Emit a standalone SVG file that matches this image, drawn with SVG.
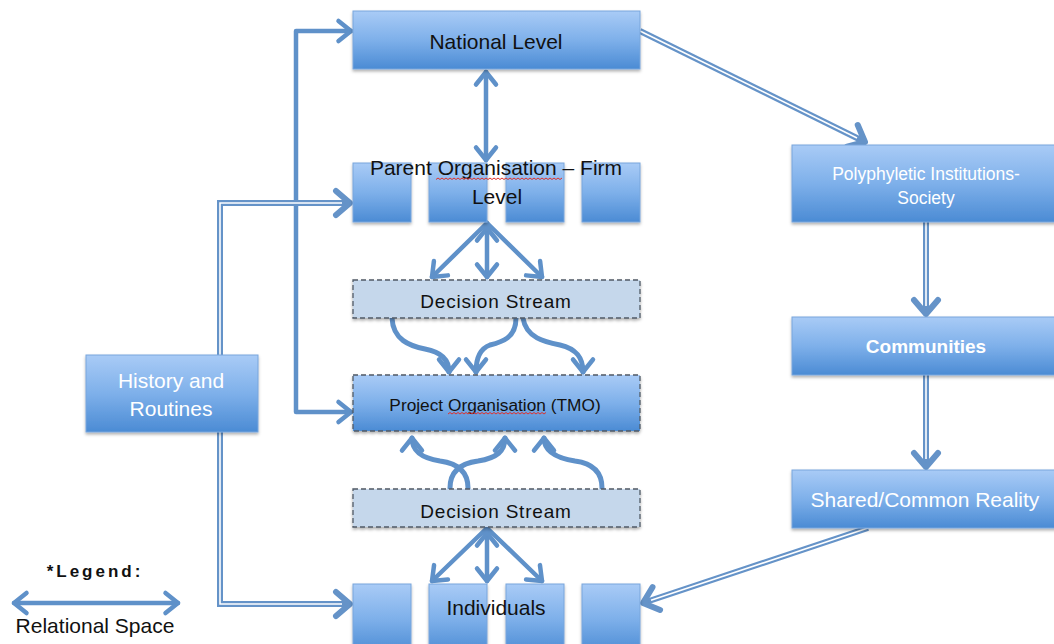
<svg xmlns="http://www.w3.org/2000/svg" width="1054" height="644" viewBox="0 0 1054 644">
  <defs>
    <linearGradient id="blueFill" x1="0" y1="0" x2="0" y2="1">
      <stop offset="0" stop-color="#a9cbf6"/>
      <stop offset="0.5" stop-color="#7eb0ea"/>
      <stop offset="1" stop-color="#4b8bd4"/>
    </linearGradient>
    <filter id="shadow" x="-10%" y="-10%" width="120%" height="130%">
      <feDropShadow dx="0" dy="2" stdDeviation="1.5" flood-color="#000" flood-opacity="0.3"/>
    </filter>
    <!-- open chevron for single connectors -->
    <marker id="head" markerUnits="userSpaceOnUse" markerWidth="32" markerHeight="32" viewBox="-16 -16 32 32" refX="0" refY="0" orient="auto-start-reverse">
      <path d="M-12.5,-10 L0,0 L-12.5,10" fill="none" stroke="#5f91c9" stroke-width="4.5" stroke-linecap="round" stroke-linejoin="round"/>
    </marker>
    <!-- heavier chevron for double connectors -->
    <marker id="bighead" markerUnits="userSpaceOnUse" markerWidth="36" markerHeight="36" viewBox="-18 -18 36 36" refX="0" refY="0" orient="auto">
      <path d="M-14,-12 L0,0 L-14,12" fill="none" stroke="#6593c8" stroke-width="6" stroke-linecap="round" stroke-linejoin="round"/>
    </marker>
    <style>
      .box { fill: url(#blueFill); stroke: #79a6dc; stroke-width: 1; filter: url(#shadow); }
      .dash { fill: url(#blueFill); stroke: #505a66; stroke-width: 1.3; stroke-dasharray: 5 3; filter: url(#shadow); }
      .stream { fill: #c5d7eb; stroke: #505a66; stroke-width: 1.3; stroke-dasharray: 5 3; filter: url(#shadow); }
      .lbl { font-family: "Liberation Sans", Arial, sans-serif; font-size: 21px; text-anchor: middle; fill: #111; }
      .wlbl { font-family: "Liberation Sans", Arial, sans-serif; font-size: 21px; text-anchor: middle; fill: #ffffff; }
      .ds { letter-spacing: 0.8px; font-size: 19px; }
      .one { fill: none; stroke: #5f91c9; stroke-width: 4.5; stroke-linecap: round; stroke-linejoin: round; }
      .curve { fill: none; stroke: #5f91c9; stroke-width: 5; stroke-linecap: round; }
      .dblOut { fill: none; stroke: #6593c8; stroke-width: 6; stroke-linejoin: miter; }
      .dblIn { fill: none; stroke: #ffffff; stroke-width: 1.6; stroke-linejoin: miter; }
      .squiggle { fill: none; stroke: #e0302a; stroke-width: 1; }
    </style>
  </defs>

  <rect width="1054" height="644" fill="#ffffff"/>

  <!-- connectors -->
  <g id="connectors">
    <!-- single relation line feeding National Level and Project Organisation -->
    <path class="one" d="M351,31 L296,31 L296,412 L351,412" marker-start="url(#head)" marker-end="url(#head)"/>

    <!-- History and Routines double lines -->
    <path class="dblOut" d="M220,355 L220,203 L350,203" marker-end="url(#bighead)"/>
    <path class="dblIn" d="M220,355 L220,203 L342,203"/>
    <path class="dblOut" d="M220,432 L220,604 L350,604" marker-end="url(#bighead)"/>
    <path class="dblIn" d="M220,432 L220,604 L342,604"/>

    <!-- National Level to Polyphyletic Institutions -->
    <path class="dblOut" d="M640,31 L865,142" marker-end="url(#bighead)"/>
    <path class="dblIn" d="M640,31 L857,138"/>

    <!-- right column chain -->
    <path class="dblOut" d="M926,222 L926,314" marker-end="url(#bighead)"/>
    <path class="dblIn" d="M926,222 L926,306"/>
    <path class="dblOut" d="M926,375 L926,467" marker-end="url(#bighead)"/>
    <path class="dblIn" d="M926,375 L926,459"/>

    <!-- Shared reality to Individuals -->
    <path class="dblOut" d="M868,528 L643,603" marker-end="url(#bighead)"/>
    <path class="dblIn" d="M868,528 L651,600.3"/>

    <!-- National Level <-> Parent Organisation -->
    <path class="one" d="M486,72 L486,160" marker-start="url(#head)" marker-end="url(#head)"/>

    <!-- Parent Organisation fan to Decision Stream -->
    <path class="one" d="M487,223 L432,277" marker-end="url(#head)"/>
    <path class="one" d="M487,228 L487,277" marker-start="url(#head)" marker-end="url(#head)"/>
    <path class="one" d="M487,223 L542,277" marker-end="url(#head)"/>

    <!-- Decision Stream to Project Organisation (curved) -->
    <path class="curve" d="M392,318 C393,340 410,346 425,349 C441,352 449,360 449,372" marker-end="url(#head)"/>
    <path class="curve" d="M516,318 C516,338 502,342 490,345 C479,349 476,360 476,372" marker-end="url(#head)"/>
    <path class="curve" d="M523,318 C526,338 545,342 560,345 C577,349 583,358 583,372" marker-end="url(#head)"/>

    <!-- Decision Stream to Project Organisation (curved, upward) -->
    <path class="curve" d="M468,488 C468,470 455,463 440,461 C421,458 412,451 412,438" marker-end="url(#head)"/>
    <path class="curve" d="M450,488 C450,470 463,463 478,461 C497,458 505,451 505,438" marker-end="url(#head)"/>
    <path class="curve" d="M602,488 C602,470 590,463 575,461 C556,458 544,451 544,438" marker-end="url(#head)"/>

    <!-- Decision Stream fan to Individuals -->
    <path class="one" d="M487,528 L432,581" marker-end="url(#head)"/>
    <path class="one" d="M487,533 L487,581" marker-start="url(#head)" marker-end="url(#head)"/>
    <path class="one" d="M487,528 L542,581" marker-end="url(#head)"/>
  </g>

  <!-- nodes -->
  <g id="national">
    <rect class="box" x="353" y="11" width="287" height="58"/>
    <text class="lbl" x="496" y="49">National Level</text>
  </g>

  <g id="parent">
    <rect class="box" x="353" y="163" width="58" height="59"/>
    <rect class="box" x="429" y="163" width="58" height="59"/>
    <rect class="box" x="506" y="163" width="58" height="59"/>
    <rect class="box" x="582" y="163" width="58" height="59"/>
    <text class="lbl" x="496" y="175">Parent Organisation – Firm</text>
    <text class="lbl" x="497" y="204">Level</text>
    <path class="squiggle" d="M436,179.5 l2,-1.5 l2,1.5 l2,-1.5 l2,1.5 l2,-1.5 l2,1.5 l2,-1.5 l2,1.5 l2,-1.5 l2,1.5 l2,-1.5 l2,1.5 l2,-1.5 l2,1.5 l2,-1.5 l2,1.5 l2,-1.5 l2,1.5 l2,-1.5 l2,1.5 l2,-1.5 l2,1.5 l2,-1.5 l2,1.5 l2,-1.5 l2,1.5 l2,-1.5 l2,1.5 l2,-1.5 l2,1.5 l2,-1.5 l2,1.5 l2,-1.5 l2,1.5 l2,-1.5 l2,1.5 l2,-1.5 l2,1.5 l2,-1.5 l2,1.5 l2,-1.5 l2,1.5 l2,-1.5 l2,1.5 l2,-1.5 l2,1.5 l2,-1.5 l2,1.5 l2,-1.5 l2,1.5 l2,-1.5 l2,1.5 l2,-1.5 l2,1.5 l2,-1.5 l2,1.5 l2,-1.5 l2,1.5 l2,-1.5 l2,1.5 l2,-1.5 l2,1.5 l2,-1.5"/>
  </g>

  <g id="decision-stream-upper">
    <rect class="stream" x="353" y="280" width="287" height="38"/>
    <text class="lbl ds" x="496" y="308">Decision Stream</text>
  </g>

  <g id="project">
    <rect class="dash" x="353" y="375" width="287" height="56"/>
    <text class="lbl" x="495" y="411" style="font-size:17.3px">Project Organisation (TMO)</text>
    <path class="squiggle" d="M448,414 l2,-1.5 l2,1.5 l2,-1.5 l2,1.5 l2,-1.5 l2,1.5 l2,-1.5 l2,1.5 l2,-1.5 l2,1.5 l2,-1.5 l2,1.5 l2,-1.5 l2,1.5 l2,-1.5 l2,1.5 l2,-1.5 l2,1.5 l2,-1.5 l2,1.5 l2,-1.5 l2,1.5 l2,-1.5 l2,1.5 l2,-1.5 l2,1.5 l2,-1.5 l2,1.5 l2,-1.5 l2,1.5 l2,-1.5 l2,1.5 l2,-1.5 l2,1.5 l2,-1.5 l2,1.5 l2,-1.5 l2,1.5 l2,-1.5 l2,1.5 l2,-1.5 l2,1.5 l2,-1.5 l2,1.5 l2,-1.5 l2,1.5 l2,-1.5 l2,1.5 l2,-1.5"/>
  </g>

  <g id="decision-stream-lower">
    <rect class="stream" x="353" y="489" width="287" height="38"/>
    <text class="lbl ds" x="496" y="518">Decision Stream</text>
  </g>

  <g id="individuals">
    <rect class="box" x="353" y="584" width="58" height="70"/>
    <rect class="box" x="429" y="584" width="58" height="70"/>
    <rect class="box" x="506" y="584" width="58" height="70"/>
    <rect class="box" x="582" y="584" width="58" height="70"/>
    <text class="lbl" x="496" y="615">Individuals</text>
  </g>

  <g id="history">
    <rect class="box" x="86" y="355" width="172" height="77"/>
    <text class="wlbl" x="171" y="388">History and</text>
    <text class="wlbl" x="171" y="416">Routines</text>
  </g>

  <g id="polyphyletic">
    <rect class="box" x="792" y="145" width="272" height="77"/>
    <text class="wlbl" x="926" y="180" style="font-size:17.5px">Polyphyletic Institutions-</text>
    <text class="wlbl" x="926" y="204" style="font-size:17.5px">Society</text>
  </g>

  <g id="communities">
    <rect class="box" x="792" y="317" width="272" height="58"/>
    <text class="wlbl" x="926" y="353" style="font-weight:bold;font-size:19px">Communities</text>
  </g>

  <g id="shared-reality">
    <rect class="box" x="792" y="470" width="272" height="58"/>
    <text class="wlbl" x="925" y="507">Shared/Common Reality</text>
  </g>

  <g id="legend">
    <text x="95" y="577" style="font-family:'Liberation Sans', Arial, sans-serif;font-size:17px;font-weight:bold;letter-spacing:3px;text-anchor:middle;fill:#111">*Legend:</text>
    <path class="one" d="M14,603 L178,603" marker-start="url(#head)" marker-end="url(#head)"/>
    <text class="lbl" x="95" y="633">Relational Space</text>
  </g>
</svg>
